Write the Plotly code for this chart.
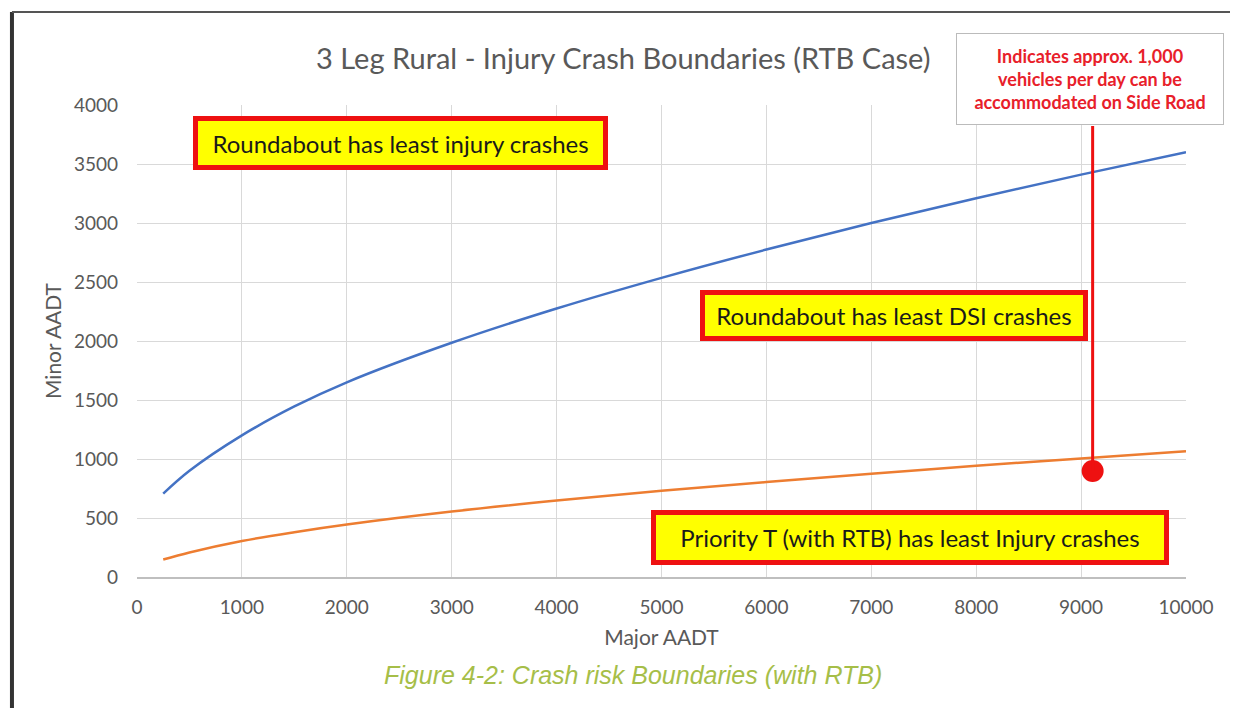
import plotly.graph_objects as go

major_aadt = [250, 500, 1000, 1500, 2000, 3000, 4000, 5000, 6000, 7000, 8000, 9000, 10000]
roundabout_boundary = [706, 900, 1200, 1445, 1650, 1985, 2275, 2535, 2775, 3000, 3210, 3410, 3600]
priority_boundary = [148, 208, 305, 380, 445, 555, 648, 730, 805, 875, 942, 1005, 1065]

marker_x = [9110]
marker_y = [898]
callout_top_y = 3822

FONT = "Lato"
GREY = "#595959"

fig = go.Figure()
fig.add_trace(go.Scatter(x=major_aadt, y=roundabout_boundary, mode="lines",
                         line=dict(color="#4472C4", width=2.5, shape="spline"),
                         showlegend=False))
fig.add_trace(go.Scatter(x=major_aadt, y=priority_boundary, mode="lines",
                         line=dict(color="#ED7D31", width=2.5, shape="spline"),
                         showlegend=False))

fig.add_shape(type="line", x0=marker_x[0], x1=marker_x[0], y0=marker_y[0], y1=callout_top_y,
              xref="x", yref="y", line=dict(color="#EE1111", width=3))
fig.add_trace(go.Scatter(x=marker_x, y=marker_y, mode="markers",
                         marker=dict(color="#EE1111", size=22), showlegend=False))

def box(text, x, y, w, h, size=24):
    fig.add_annotation(x=x, y=y, xref="x", yref="y", text=text, showarrow=False,
                       bgcolor="#FFFF00", bordercolor="#EE1111", borderwidth=5, borderpad=0,
                       width=w, height=h, font=dict(family=FONT, size=size, color="#1a1a1a"))

box("Roundabout has least injury crashes", 2512, 3674, 405, 44)
box("Roundabout has least DSI crashes", 7216, 2212, 378, 41)
box("Priority T (with RTB) has least Injury crashes", 7369, 335, 508, 45)

fig.add_annotation(x=(1090 - 137) / 1049, y=(577 - 79) / 472, xref="paper", yref="paper",
                   xanchor="center", yanchor="middle",
                   text="<b>Indicates approx. 1,000<br>vehicles per day can be<br>accommodated on Side Road</b>",
                   showarrow=False, bgcolor="white", bordercolor="#BBBBBB", borderwidth=1,
                   borderpad=0, width=266, height=90,
                   font=dict(family=FONT, size=18, color="#E8202A"))

fig.add_annotation(x=(623.5 - 137) / 1049, y=(577 - 58) / 472, xref="paper", yref="paper",
                   xanchor="center", yanchor="middle",
                   text="3 Leg Rural - Injury Crash Boundaries (RTB Case)", showarrow=False,
                   font=dict(family=FONT, size=29, color=GREY))

fig.add_annotation(x=(633 - 137) / 1049, y=(577 - 675) / 472, xref="paper", yref="paper",
                   xanchor="center", yanchor="middle",
                   text="<i>Figure 4-2: Crash risk Boundaries (with RTB)</i>", showarrow=False,
                   font=dict(family="Liberation Sans", size=25, color="#A6BE48"))

# outer frame lines
fig.add_shape(type="line", xref="paper", yref="paper", x0=-0.1192, x1=-0.1192, y0=-0.35, y1=1.197,
              line=dict(color="#333333", width=4))
fig.add_shape(type="line", xref="paper", yref="paper", x0=-0.1192, x1=1.06, y0=1.197, y1=1.197,
              line=dict(color="#555555", width=2))

fig.update_xaxes(range=[0, 10000], dtick=1000, tickformat="d", showgrid=True, gridcolor="#D9D9D9",
                 showline=True, linecolor="#BFBFBF", linewidth=1.5, zeroline=False, ticks="",
                 ticklabelstandoff=12,
                 tickfont=dict(family=FONT, size=19, color=GREY),
                 title=dict(text="Major AADT", font=dict(family=FONT, size=21, color=GREY), standoff=14))
fig.update_yaxes(range=[0, 4000], dtick=500, tickformat="d", showgrid=True, gridcolor="#D9D9D9",
                 zeroline=False, showline=False, ticks="", ticklabelstandoff=18,
                 tickfont=dict(family=FONT, size=19, color=GREY),
                 title=dict(text="Minor AADT", font=dict(family=FONT, size=21, color=GREY), standoff=6))

fig.update_layout(width=1238, height=708, paper_bgcolor="white", plot_bgcolor="white",
                  margin=dict(l=129, r=60, t=97, b=139))

fig.write_html("out.html")
